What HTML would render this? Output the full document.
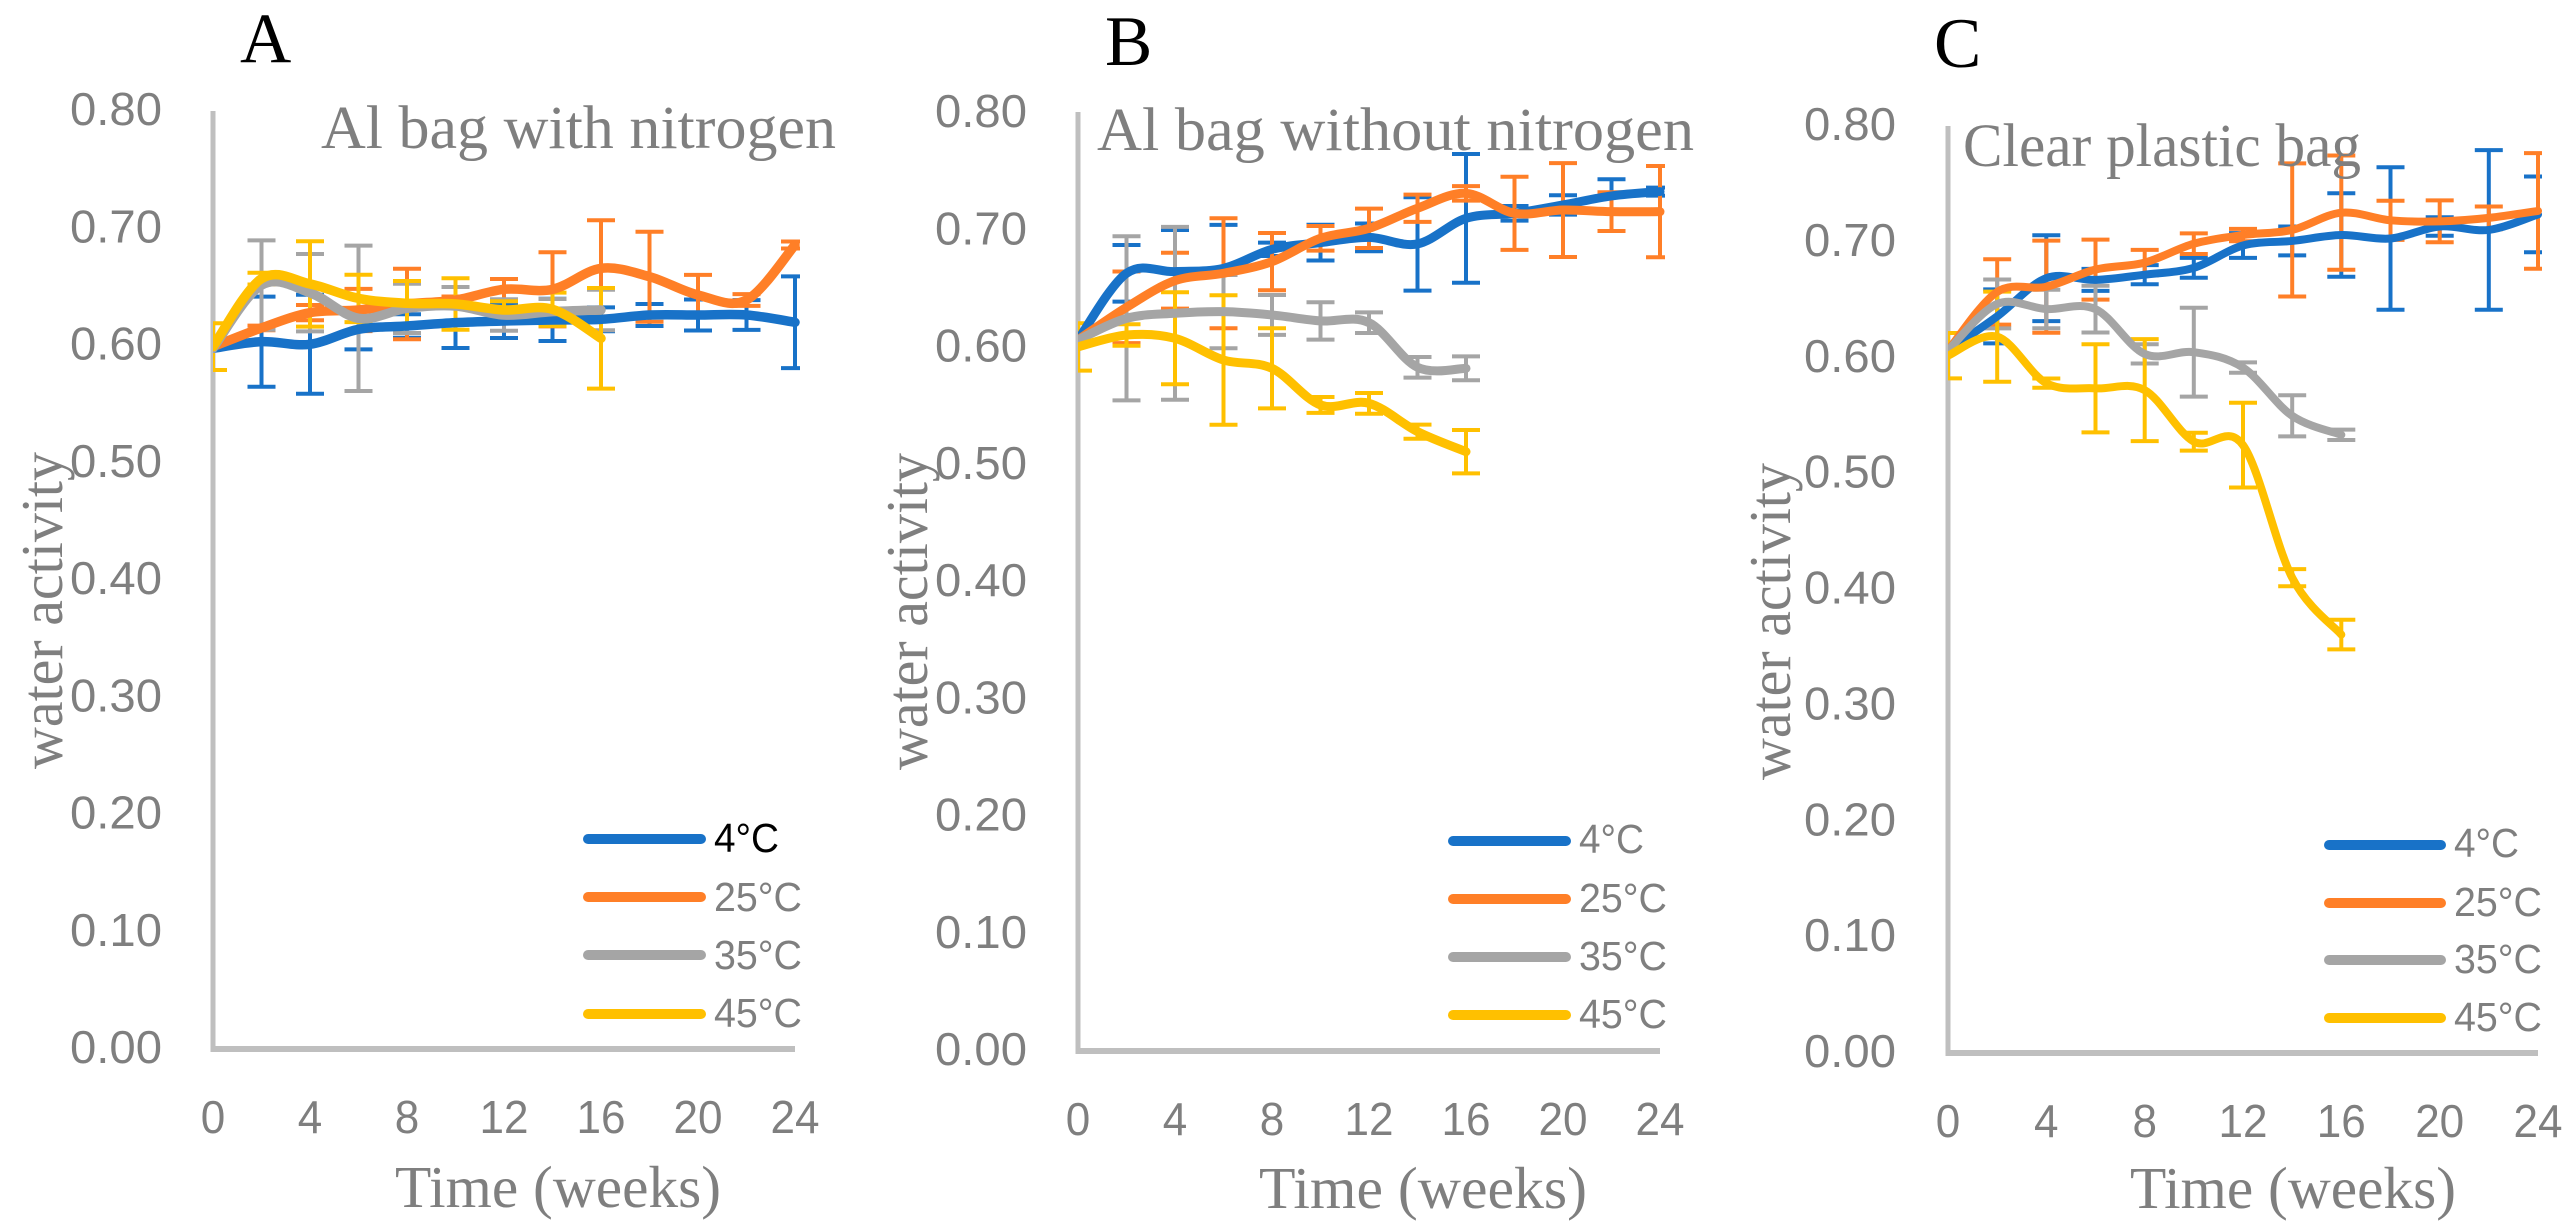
<!DOCTYPE html>
<html lang="en">
<head>
<meta charset="utf-8">
<title>Water activity over time in three packaging types</title>
<style>
html,body{margin:0;padding:0;background:#fff;}
svg{display:block;}
.tick{font-family:"Liberation Sans",sans-serif;font-size:46px;fill:#7f7f7f;}
.serif{font-family:"Liberation Serif",serif;fill:#7f7f7f;}
.title{font-size:61px;}
.axis-title{font-size:59px;}
.letter{font-family:"Liberation Serif",serif;font-size:71px;fill:#000;}
.leg{font-family:"Liberation Sans",sans-serif;font-size:41px;fill:#7f7f7f;}
.legline{stroke-width:10;stroke-linecap:round;}
</style>
</head>
<body>
<svg id="chart" xmlns="http://www.w3.org/2000/svg" width="2576" height="1230" viewBox="0 0 2576 1230">
  <rect width="2576" height="1230" fill="#ffffff"/>
  <g id="plots"></g>

  <text class="letter" x="240" y="62">A</text>
  <text class="letter" x="1105" y="65">B</text>
  <text class="letter" x="1934" y="67">C</text>

  <text class="serif title" x="321" y="148" textLength="515" lengthAdjust="spacingAndGlyphs">Al bag with nitrogen</text>
  <text class="serif title" x="1097" y="150" textLength="597" lengthAdjust="spacingAndGlyphs">Al bag without nitrogen</text>
  <text class="serif title" x="1963" y="166" textLength="398" lengthAdjust="spacingAndGlyphs">Clear plastic bag</text>

  <text class="serif axis-title" x="395" y="1207" textLength="326" lengthAdjust="spacingAndGlyphs">Time (weeks)</text>
  <text class="serif axis-title" x="1259" y="1208" textLength="328" lengthAdjust="spacingAndGlyphs">Time (weeks)</text>
  <text class="serif axis-title" x="2130" y="1208" textLength="326" lengthAdjust="spacingAndGlyphs">Time (weeks)</text>

  <text class="serif axis-title" transform="translate(62,769) rotate(-90)" textLength="317" lengthAdjust="spacingAndGlyphs">water activity</text>
  <text class="serif axis-title" transform="translate(927,770) rotate(-90)" textLength="317" lengthAdjust="spacingAndGlyphs">water activity</text>
  <text class="serif axis-title" transform="translate(1790,780) rotate(-90)" textLength="317" lengthAdjust="spacingAndGlyphs">water activity</text>

  <g>
    <line class="legline" x1="588" y1="839" x2="701" y2="839" stroke="#1872c8"/>
    <text class="leg" x="714" y="852" textLength="65" lengthAdjust="spacingAndGlyphs" style="fill:#000">4°C</text>
    <line class="legline" x1="588" y1="897" x2="701" y2="897" stroke="#ff7f27"/>
    <text class="leg" x="714" y="911" textLength="88" lengthAdjust="spacingAndGlyphs">25°C</text>
    <line class="legline" x1="588" y1="955" x2="701" y2="955" stroke="#a5a5a5"/>
    <text class="leg" x="714" y="969" textLength="88" lengthAdjust="spacingAndGlyphs">35°C</text>
    <line class="legline" x1="588" y1="1014" x2="701" y2="1014" stroke="#ffc000"/>
    <text class="leg" x="714" y="1027" textLength="88" lengthAdjust="spacingAndGlyphs">45°C</text>
  </g>
  <g>
    <line class="legline" x1="1453" y1="841" x2="1566" y2="841" stroke="#1872c8"/>
    <text class="leg" x="1579" y="853" textLength="65" lengthAdjust="spacingAndGlyphs">4°C</text>
    <line class="legline" x1="1453" y1="899" x2="1566" y2="899" stroke="#ff7f27"/>
    <text class="leg" x="1579" y="912" textLength="88" lengthAdjust="spacingAndGlyphs">25°C</text>
    <line class="legline" x1="1453" y1="957" x2="1566" y2="957" stroke="#a5a5a5"/>
    <text class="leg" x="1579" y="970" textLength="88" lengthAdjust="spacingAndGlyphs">35°C</text>
    <line class="legline" x1="1453" y1="1015" x2="1566" y2="1015" stroke="#ffc000"/>
    <text class="leg" x="1579" y="1028" textLength="88" lengthAdjust="spacingAndGlyphs">45°C</text>
  </g>
  <g>
    <line class="legline" x1="2329" y1="845" x2="2441" y2="845" stroke="#1872c8"/>
    <text class="leg" x="2454" y="857" textLength="65" lengthAdjust="spacingAndGlyphs">4°C</text>
    <line class="legline" x1="2329" y1="903" x2="2441" y2="903" stroke="#ff7f27"/>
    <text class="leg" x="2454" y="916" textLength="88" lengthAdjust="spacingAndGlyphs">25°C</text>
    <line class="legline" x1="2329" y1="960" x2="2441" y2="960" stroke="#a5a5a5"/>
    <text class="leg" x="2454" y="973" textLength="88" lengthAdjust="spacingAndGlyphs">35°C</text>
    <line class="legline" x1="2329" y1="1018" x2="2441" y2="1018" stroke="#ffc000"/>
    <text class="leg" x="2454" y="1031" textLength="88" lengthAdjust="spacingAndGlyphs">45°C</text>
  </g>
</svg>

<script>
// Shared axes
const weeks = [0, 2, 4, 6, 8, 10, 12, 14, 16, 18, 20, 22, 24];
const xTickLabels = [0, 4, 8, 12, 16, 20, 24];
const yTickLabels = ['0.00', '0.10', '0.20', '0.30', '0.40', '0.50', '0.60', '0.70', '0.80'];
const yTickValues = [0, 0.1, 0.2, 0.3, 0.4, 0.5, 0.6, 0.7, 0.8];

// Panel A: Al bag with nitrogen
const a4C = [0.5976, 0.6033, 0.6010, 0.6138, 0.6166, 0.6195, 0.6209, 0.6218, 0.6223, 0.6260, 0.6260, 0.6260, 0.6198];
const a4CErr = [0, 0.0384, 0.0422, 0.0171, 0.0100, 0.0216, 0.0145, 0.0180, 0.0102, 0.0094, 0.0132, 0.0127, 0.0391];
const a25C = [0.5990, 0.6150, 0.6280, 0.6303, 0.6354, 0.6388, 0.6479, 0.6479, 0.6658, 0.6587, 0.6431, 0.6388, 0.6857];
const a25CErr = [0, 0.002, 0.0065, 0.0180, 0.0300, 0.003, 0.0088, 0.0316, 0.0410, 0.0384, 0.0171, 0.0050, 0.003];
const a35C = [0.5976, 0.6515, 0.6450, 0.6232, 0.6317, 0.6337, 0.6260, 0.6289, 0.6303];
const a35CErr = [0, 0.0381, 0.0330, 0.0620, 0.0210, 0.0162, 0.0135, 0.0108, 0.0173];
const a45C = [0.5990, 0.6570, 0.6525, 0.6402, 0.6360, 0.6354, 0.6303, 0.6309, 0.6061];
const a45CErr = [0.0199, 0.0050, 0.0364, 0.0202, 0.0190, 0.0219, 0.0074, 0.0142, 0.0429];

// Panel B: Al bag without nitrogen
const b4C = [0.6058, 0.6626, 0.6640, 0.6668, 0.6830, 0.6887, 0.6932, 0.6876, 0.7094, 0.7137, 0.7208, 0.7285, 0.7322];
const b4CErr = [0, 0.0241, 0.0355, 0.0370, 0.0057, 0.0152, 0.0118, 0.0398, 0.0548, 0.0062, 0.0082, 0.0142, 0.0034];
const b25C = [0.6058, 0.6336, 0.6563, 0.6626, 0.6725, 0.6924, 0.7009, 0.7180, 0.7307, 0.7137, 0.7165, 0.7151, 0.7151];
const b25CErr = [0, 0.0305, 0.0238, 0.0469, 0.0244, 0.0105, 0.0168, 0.0116, 0.0062, 0.0312, 0.0400, 0.0165, 0.0389];
const b35C = [0.6058, 0.6242, 0.6285, 0.6299, 0.6271, 0.6220, 0.6205, 0.5825, 0.5816];
const b35CErr = [0, 0.0699, 0.0736, 0.0312, 0.0170, 0.0159, 0.0088, 0.0088, 0.0102];
const b45C = [0.5999, 0.6100, 0.6072, 0.5887, 0.5816, 0.5504, 0.5518, 0.5277, 0.5106];
const b45CErr = [0.0202, 0.0091, 0.0392, 0.0551, 0.0341, 0.0068, 0.0088, 0.0060, 0.0185];

// Panel C: Clear plastic bag
const c4C = [0.6063, 0.6357, 0.6687, 0.6672, 0.6717, 0.6776, 0.6969, 0.7008, 0.7059, 0.7029, 0.7133, 0.7103, 0.7237];
const c4CErr = [0, 0.0233, 0.0371, 0.0095, 0.0083, 0.0086, 0.0107, 0.0125, 0.0360, 0.0615, 0.0080, 0.0689, 0.0327];
const c25C = [0.6063, 0.6568, 0.6613, 0.6761, 0.6821, 0.6984, 0.7059, 0.7103, 0.7252, 0.7186, 0.7177, 0.7207, 0.7267];
const c25CErr = [0, 0.0282, 0.0398, 0.0259, 0.0110, 0.0089, 0.0053, 0.0574, 0.0493, 0.0169, 0.0181, 0.0098, 0.0499];
const c35C = [0.6063, 0.6464, 0.6420, 0.6420, 0.6033, 0.6048, 0.5915, 0.5499, 0.5335];
const c35CErr = [0, 0.0211, 0.0166, 0.0202, 0.0083, 0.0383, 0.0045, 0.0178, 0.0045];
const c45C = [0.6018, 0.6182, 0.5781, 0.5736, 0.5721, 0.5276, 0.5246, 0.4102, 0.3611];
const c45CErr = [0.0196, 0.0389, 0.0040, 0.0380, 0.0440, 0.0077, 0.0366, 0.0074, 0.0128];

const seriesNames = ['4c', '25c', '35c', '45c'];
const seriesColors = ['#1872c8', '#ff7f27', '#a5a5a5', '#ffc000'];

const panels = [
  { id: 'a', left: 213, right: 795, top: 111, bottom: 1049, clipRight: 800, lineWidth: 9.5,
    labelRight: 162, labelLeft: 70, topBase: 125, zeroBase: 1063, xBase: 1133,
    xLabelLeft: 213, xLabelRight: 795,
    values: [a4C, a25C, a35C, a45C], errors: [a4CErr, a25CErr, a35CErr, a45CErr] },
  { id: 'b', left: 1078, right: 1660, top: 112, bottom: 1051, clipRight: 1665, lineWidth: 9,
    labelRight: 1027, labelLeft: 935, topBase: 127, zeroBase: 1065, xBase: 1135,
    xLabelLeft: 1078, xLabelRight: 1660,
    values: [b4C, b25C, b35C, b45C], errors: [b4CErr, b25CErr, b35CErr, b45CErr] },
  { id: 'c', left: 1948, right: 2538, top: 126, bottom: 1053, clipRight: 2542, lineWidth: 8,
    labelRight: 1896, labelLeft: 1804, topBase: 140, zeroBase: 1067, xBase: 1137,
    xLabelLeft: 1948, xLabelRight: 2538,
    values: [c4C, c25C, c35C, c45C], errors: [c4CErr, c25CErr, c35CErr, c45CErr] }
];

const NS = 'http://www.w3.org/2000/svg';
const root = document.getElementById('plots');

function make(tag, attrs, parent) {
  const el = document.createElementNS(NS, tag);
  for (const k in attrs) el.setAttribute(k, attrs[k]);
  parent.appendChild(el);
  return el;
}

function smoothPath(pts) {
  let d = 'M' + pts[0][0].toFixed(2) + ' ' + pts[0][1].toFixed(2);
  for (let i = 0; i < pts.length - 1; i++) {
    const p0 = pts[Math.max(i - 1, 0)];
    const p1 = pts[i];
    const p2 = pts[i + 1];
    const p3 = pts[Math.min(i + 2, pts.length - 1)];
    const c1x = p1[0] + (p2[0] - p0[0]) / 6;
    const c1y = p1[1] + (p2[1] - p0[1]) / 6;
    const c2x = p2[0] - (p3[0] - p1[0]) / 6;
    const c2y = p2[1] - (p3[1] - p1[1]) / 6;
    d += 'C' + c1x.toFixed(2) + ' ' + c1y.toFixed(2) + ' ' + c2x.toFixed(2) + ' ' + c2y.toFixed(2) + ' ' + p2[0].toFixed(2) + ' ' + p2[1].toFixed(2);
  }
  return d;
}

function drawPanel(p) {
  const xScale = w => p.left + (w / 24) * (p.right - p.left);
  const yScale = v => p.bottom - (v / 0.8) * (p.bottom - p.top);
  const xLabelScale = w => p.xLabelLeft + (w / 24) * (p.xLabelRight - p.xLabelLeft);
  const yLabelBase = v => p.zeroBase - (v / 0.8) * (p.zeroBase - p.topBase);

  const g = make('g', {}, root);
  
  

  const defs = make('defs', {}, g);
  const clip = make('clipPath', { id: 'clip-' + p.id }, defs);
  make('rect', { x: p.left, y: 0, width: p.clipRight - p.left, height: 1230 }, clip);

  const yAxis = make('line', { x1: p.left, y1: p.top, x2: p.left, y2: p.bottom + 3, stroke: '#bfbfbf', 'stroke-width': 5 }, g);
  
  
  const xAxis = make('line', { x1: p.left - 2.5, y1: p.bottom, x2: p.right, y2: p.bottom, stroke: '#bfbfbf', 'stroke-width': 6 }, g);
  
  

  yTickValues.forEach((v, i) => {
    const t = make('text', { class: 'tick', x: p.labelLeft, y: yLabelBase(v).toFixed(1), textLength: p.labelRight - p.labelLeft, lengthAdjust: 'spacingAndGlyphs' }, g);
    t.textContent = yTickLabels[i];
    
    
  });
  xTickLabels.forEach(w => {
    const label = String(w);
    const t = make('text', { class: 'tick', x: xLabelScale(w).toFixed(1), y: p.xBase, 'text-anchor': 'middle', textLength: label.length * 24.5, lengthAdjust: 'spacingAndGlyphs' }, g);
    t.textContent = label;
    
    
  });

  const clipped = make('g', { 'clip-path': 'url(#clip-' + p.id + ')' }, g);
  
  

  p.values.forEach((vals, s) => {
    const errs = p.errors[s];
    const eg = make('g', { stroke: seriesColors[s], 'stroke-width': 4, fill: 'none' }, clipped);
    
    
    vals.forEach((v, i) => {
      const e = errs[i];
      if (!e) return;
      const x = xScale(weeks[i]);
      const y1 = yScale(v + e);
      const y2 = yScale(v - e);
      const bar = make('path', { d: 'M' + x.toFixed(1) + ' ' + y1.toFixed(1) + 'V' + y2.toFixed(1) + 'M' + (x - 14).toFixed(1) + ' ' + y1.toFixed(1) + 'H' + (x + 14).toFixed(1) + 'M' + (x - 14).toFixed(1) + ' ' + y2.toFixed(1) + 'H' + (x + 14).toFixed(1) }, eg);
      
      
    });
  });

  p.values.forEach((vals, s) => {
    const pts = vals.map((v, i) => [xScale(weeks[i]), yScale(v)]);
    const line = make('path', { d: smoothPath(pts), fill: 'none', stroke: seriesColors[s], 'stroke-width': p.lineWidth, 'stroke-linecap': 'round', 'stroke-linejoin': 'round' }, clipped);
    
    
  });
}

panels.forEach(drawPanel);
</script>
</body>
</html>
